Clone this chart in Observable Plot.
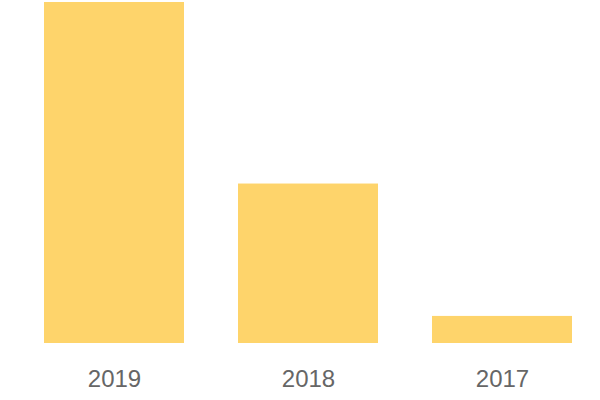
<!DOCTYPE html>
<html>
<head>
<meta charset="utf-8">
<script src="https://cdn.jsdelivr.net/npm/d3@7"></script>
<script src="https://cdn.jsdelivr.net/npm/@observablehq/plot@0.6"></script>
<style>
  html, body { margin: 0; padding: 0; background: #fff; }
</style>
</head>
<body>
<div id="chart"></div>
<script>
const years = ["2019", "2018", "2017"];
const values = [340, 159, 27];

const data = years.map((y, i) => ({year: y, value: values[i]}));

const chart = Plot.plot({
  width: 600,
  height: 400,
  marginTop: 2,
  marginBottom: 57,
  marginLeft: 43,
  marginRight: 27,
  style: {fontFamily: "'Liberation Sans', Arial, sans-serif", background: "#fff"},
  x: {domain: years, padding: 0.28, paddingOuter: 0, label: null, tickSize: 0, tickPadding: 0},
  y: {domain: [0, 340], axis: null},
  marks: [
    Plot.barY(data, {x: "year", y: "value", fill: "#fed46b"}),
    Plot.axisX({tickSize: 0, tickPadding: 26, fontSize: 24, color: "#666", label: null})
  ]
});
document.getElementById("chart").appendChild(chart);
</script>
</body>
</html>
